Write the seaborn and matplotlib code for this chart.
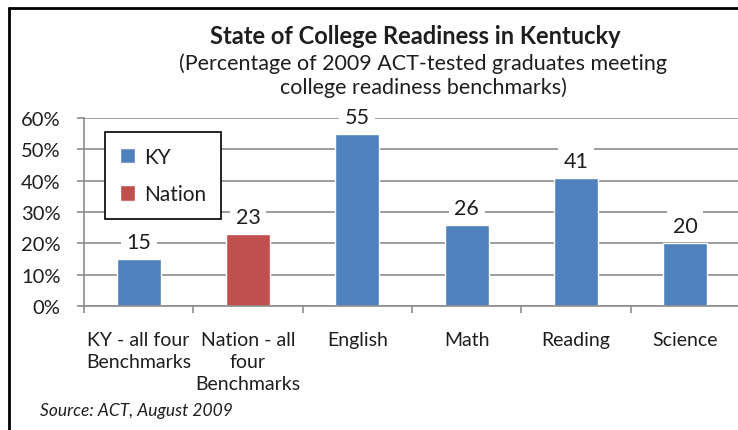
import matplotlib
matplotlib.use("Agg")
import matplotlib.pyplot as plt
import seaborn as sns
import pandas as pd
from matplotlib.lines import Line2D
from matplotlib.ticker import PercentFormatter, FixedLocator

categories = ["KY - all four\nBenchmarks", "Nation - all\nfour\nBenchmarks",
              "English", "Math", "Reading", "Science"]
values = [15, 23, 55, 26, 41, 20]
series = ["KY", "Nation", "KY", "KY", "KY", "KY"]
series_colors = {"KY": "#4F81BD", "Nation": "#C0504D"}
y_ticks = [0, 10, 20, 30, 40, 50, 60]

title = "State of College Readiness in Kentucky"
subtitle = "(Percentage of 2009 ACT-tested graduates meeting\ncollege readiness benchmarks)"
source = "Source: ACT, August 2009"

df = pd.DataFrame({"category": categories, "value": values, "series": series})

sns.set_theme(style="white")
plt.rcParams["font.family"] = ["Lato", "DejaVu Sans"]

fig = plt.figure(figsize=(7.38, 4.31), dpi=100)
ax = fig.add_axes([84/738, 124/431, 656/738, 188/431])

sns.barplot(data=df, x="category", y="value", hue="series", palette=series_colors,
            dodge=False, width=0.4, ax=ax, saturation=1, legend=True)

ax.set_ylim(0, 60)
ax.set_xlim(-0.5, 5.5)
ax.yaxis.set_major_locator(FixedLocator(y_ticks))
ax.yaxis.set_major_formatter(PercentFormatter(100, decimals=0))
ax.grid(axis="y", color="#8C8C8C", linewidth=1.2)
ax.set_axisbelow(True)
for s in ["top", "right"]:
    ax.spines[s].set_visible(False)
for s in ["left", "bottom"]:
    ax.spines[s].set_color("#8C8C8C")
    ax.spines[s].set_linewidth(1.2)
ax.set_xlabel("")
ax.set_ylabel("")
ax.tick_params(axis="y", which="major", length=5, width=1.2, color="#8C8C8C",
               labelsize=14.5, labelcolor="#1E1E1E", direction="out", left=True, pad=12)
ax.tick_params(axis="x", which="major", length=0, labelsize=14, labelcolor="#1E1E1E", pad=18)
ax.set_xticks([i - 0.5 for i in range(7)], minor=True)
ax.tick_params(axis="x", which="minor", length=5, width=1.2, color="#8C8C8C",
               direction="out", bottom=True)
for lab in ax.get_xticklabels():
    lab.set_verticalalignment("top")
    lab.set_linespacing(1.35)

for cont in ax.containers:
    labs = [f"{v:.0f}" if v == v else "" for v in cont.datavalues]
    ax.bar_label(cont, labels=labs, padding=5, fontsize=15.5, color="#1E1E1E",
                 bbox=dict(facecolor="white", edgecolor="none", pad=4))

leg = ax.legend(loc="upper left", bbox_to_anchor=(0.032, 0.925), fontsize=15,
                frameon=True, fancybox=False, edgecolor="black", framealpha=1,
                labelspacing=0.85, handlelength=0.75, handleheight=0.75,
                borderpad=0.7, handletextpad=0.45, borderaxespad=0)
leg.get_frame().set_linewidth(1.2)
for t in leg.get_texts():
    t.set_color("#1E1E1E")

fig.text(415/738, 1 - 36/431, title, ha="center", va="center", fontsize=17,
         fontweight="bold", color="#1E1E1E")
fig.text(423/738, 1 - 75.5/431, subtitle, ha="center", va="center", fontsize=15.5,
         color="#1E1E1E", linespacing=1.2)
fig.text(40/738, 1 - 411/431, source, ha="left", va="center", fontsize=12.5,
         style="italic", color="#1E1E1E")

fig.add_artist(Line2D([8.5/738, 1.0], [1 - 8.5/431, 1 - 8.5/431], transform=fig.transFigure,
                      color="black", linewidth=2))
fig.add_artist(Line2D([8.5/738, 8.5/738], [0, 1 - 8.5/431], transform=fig.transFigure,
                      color="black", linewidth=2))

fig.savefig("out.png", dpi=100)
